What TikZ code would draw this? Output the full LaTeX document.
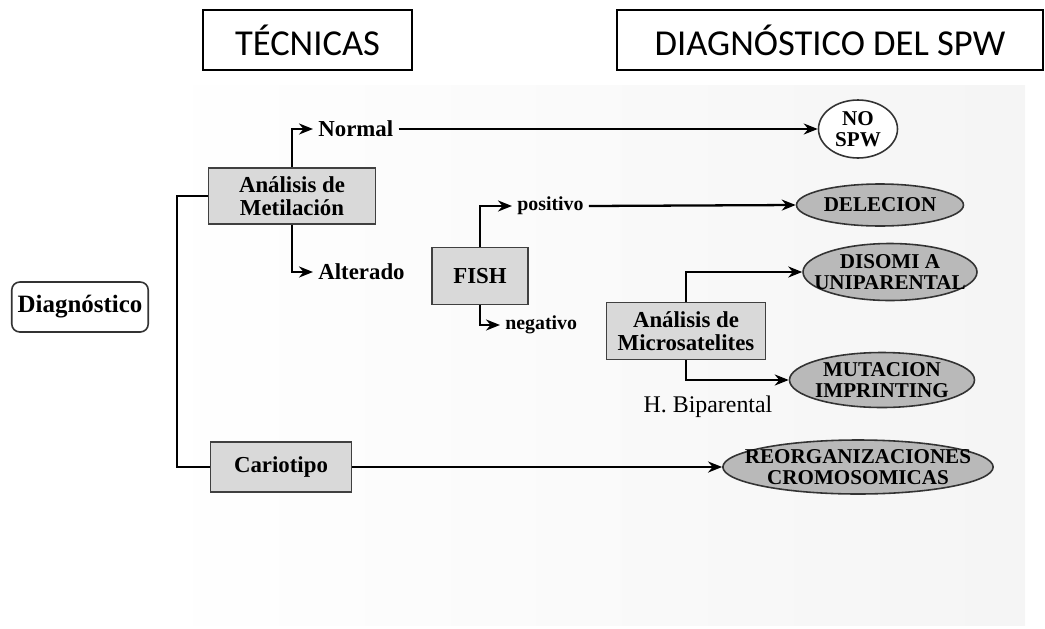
\documentclass[tikz,border=0pt]{standalone}
\usepackage{fontspec}
\setmainfont{Liberation Serif}
\newfontfamily\titlefont{Carlito}
\usepackage{tikz}
\usetikzlibrary{shapes.geometric,arrows.meta,positioning}

\begin{document}
\begin{tikzpicture}[
    x=0.02cm, y=-0.02cm,
    header/.style={rectangle, draw, line width=0.9pt, minimum height=1.2cm, font=\titlefont\fontsize{20.8}{22}\selectfont},
    box/.style={rectangle, draw=black!75, line width=0.9pt, fill=gray!30, align=center, font=\bfseries\fontsize{13}{13}\selectfont},
    outcome/.style={ellipse, draw=black!80, line width=0.9pt, fill=gray!55, inner xsep=-0.35cm, inner ysep=-0.24cm, align=center, font=\bfseries\fontsize{12}{11.6}\selectfont},
    tag/.style={anchor=west, inner sep=0.1cm, font=\bfseries\fontsize{13}{13}\selectfont},
    smalltag/.style={tag, font=\bfseries\fontsize{11.3}{11.3}\selectfont},
    arrow/.style={-{Stealth[length=0.28cm,width=0.22cm]}, line width=1.3pt},
    line/.style={line width=1.3pt}
]
\useasboundingbox (0,0) rectangle (1045,629);
% soft grey backdrop of the original slide
\fill[left color=white, right color=gray!8] (150,85) rectangle (1025,625);

% headers
\node[header, minimum width=4.18cm] (tecnicas) at (307.5,40) {TÉCNICAS};
\node[header, minimum width=8.52cm] (diagspw) at (830,40) {DIAGNÓSTICO DEL SPW};

% techniques
\node[rectangle, draw=black!80, line width=0.9pt, rounded corners=0.16cm, fill=white, minimum width=2.72cm, minimum height=1cm, font=\bfseries\fontsize{14.2}{14.2}\selectfont] (diag) at (80,307) {Diagnóstico};
\node[box, minimum width=3.34cm, minimum height=1.12cm] (metil) at (292,196) {Análisis de\\Metilación};
\node[box, minimum width=1.92cm, minimum height=1.14cm] (fish) at (480,276) {FISH};
\node[box, minimum width=3.18cm, minimum height=1.14cm] (micro) at (686,331) {Análisis de\\Microsatelites};
\node[box, minimum width=2.82cm, minimum height=1cm] (cario) at (281,467) {Cariotipo};
\coordinate (btop) at (177,196);
\coordinate (bbot) at (177,467);

% results of each step
\node[tag] (normal) at (313,129) {Normal};
\node[tag] (alterado) at (313,272) {Alterado};
\node[smalltag] (positivo) at (512,206) {positivo};
\node[smalltag] (negativo) at (500,325) {negativo};
\node[font=\fontsize{13.6}{13.6}\selectfont] (bipar) at (708,407) {H. Biparental};

% diagnoses
\node[outcome, fill=white, minimum width=1.58cm, minimum height=1.16cm] (nospw) at (858,129) {NO\\SPW};
\node[outcome, minimum width=3.34cm, minimum height=0.84cm] (delecion) at (880,205) {DELECION};
\node[outcome, minimum width=3.48cm, minimum height=1.14cm] (disomia) at (890,272) {DISOMI A\\UNIPARENTAL};
\node[outcome, minimum width=3.7cm, minimum height=1.1cm] (mutacion) at (882,380) {MUTACION\\IMPRINTING};
\node[outcome, minimum width=5.38cm, minimum height=1.08cm] (reorg) at (858,467) {REORGANIZACIONES\\CROMOSOMICAS};

\draw[line] (metil.west) -- (btop) -- (bbot) -- (cario.west);
\draw[arrow] (metil.north) |- (normal.west);
\draw[arrow] (metil.south) |- (alterado.west);
\draw[arrow] (normal.east) -- (nospw.west);
\draw[arrow] (fish.north) |- (positivo.west);
\draw[arrow] (fish.south) |- (negativo.west);
\draw[arrow] (positivo.east) -- (delecion.west);
\draw[arrow] (micro.north) |- (disomia.west);
\draw[arrow] (micro.south) |- (mutacion.west);
\draw[arrow] (cario.east) -- (reorg.west);
\end{tikzpicture}
\end{document}
